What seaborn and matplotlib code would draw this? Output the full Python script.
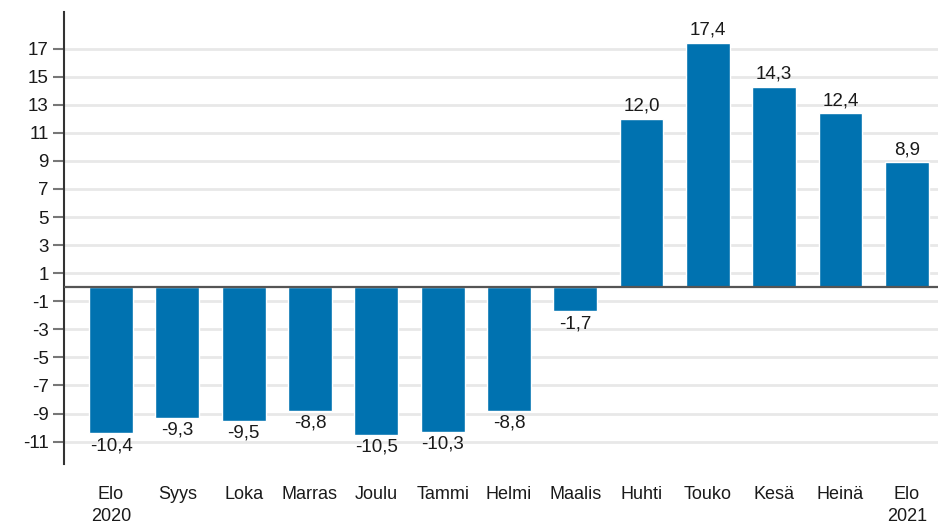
import matplotlib
matplotlib.use("Agg")
import matplotlib.pyplot as plt
import seaborn as sns
import numpy as np

# Data
months = ["Elo\n2020", "Syys", "Loka", "Marras", "Joulu", "Tammi", "Helmi",
          "Maalis", "Huhti", "Touko", "Kesä", "Heinä", "Elo\n2021"]
values = [-10.4, -9.3, -9.5, -8.8, -10.5, -10.3, -8.8, -1.7, 12.0, 17.4, 14.3, 12.4, 8.9]
yticks = list(range(-11, 18, 2))

sns.set_theme(style="white")
plt.rcParams['font.family'] = ['Liberation Sans', 'DejaVu Sans']

fig = plt.figure(figsize=(9.38, 5.27), dpi=100)
ax = fig.add_axes([0.0682, 0.1195, 0.9318, 0.8575])

# grid lines behind bars
for t in yticks:
    ax.axhline(t, color="#e8e8e8", lw=2, zorder=0)

sns.barplot(x=months, y=values, color="#0072b0", saturation=1, width=0.66, ax=ax, zorder=2)

ax.axhline(0, color="#555555", lw=1.6, zorder=3)

labels = [f"{v:.1f}".replace(".", ",") for v in values]
ax.bar_label(ax.containers[0], labels=labels, padding=3, fontsize=13.5, color="#1a1a1a")

ax.set_ylim(-12.6, 19.6)
ax.set_xlim(-0.71, 12.47)
ax.set_yticks(yticks)
ax.set_yticklabels([str(t) for t in yticks])
ax.tick_params(axis="y", length=8, width=1.5, color="#777777", labelsize=13.5, pad=3, labelcolor="#1a1a1a", left=True)
ax.tick_params(axis="x", length=0, labelsize=13, pad=16, labelcolor="#1a1a1a")
for lbl in ax.get_xticklabels():
    lbl.set_linespacing(1.35)

for s in ["top", "right", "bottom"]:
    ax.spines[s].set_visible(False)
ax.spines["left"].set_color("#333333")
ax.spines["left"].set_linewidth(1.5)
ax.set_xlabel("")
ax.set_ylabel("")

plt.savefig("out.png", dpi=100)
